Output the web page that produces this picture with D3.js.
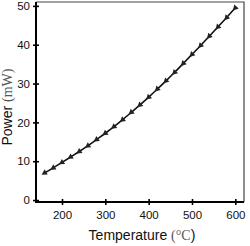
<!DOCTYPE html>
<html>
<head>
<meta charset="utf-8">
<script src="https://cdn.jsdelivr.net/npm/d3@7"></script>
<style>
  body { margin: 0; background: #fff; }
  text { font-family: "Liberation Sans", Arial, sans-serif; fill: #111; }
</style>
</head>
<body>
<div id="chart_box"></div>
<script>
var temperature = [160, 180, 200, 220, 240, 260, 280, 300, 320, 340, 360, 380,
                   400, 420, 440, 460, 480, 500, 520, 540, 560, 580, 600];
var power = [7.0, 8.3, 9.7, 11.1, 12.5, 14.0, 15.6, 17.2, 18.9, 20.7, 22.6, 24.5,
             26.5, 28.6, 30.7, 32.9, 35.2, 37.5, 39.8, 42.2, 44.6, 47.0, 49.5];
var xTicks = [200, 300, 400, 500, 600];
var yTicks = [0, 10, 20, 30, 40, 50];

// plot box edges (note: "top" is reserved on window, so use other names)
var width = 250, height = 246;
var plotLeft = 36, plotRight = 244, plotTop = 2, plotBottom = 202;

var svg = d3.select("#chart_box").append("svg")
    .attr("width", width)
    .attr("height", height);

var x = d3.scaleLinear().domain([140, 620]).range([plotLeft, plotRight]);
var y = d3.scaleLinear().domain([-0.5, 51]).range([plotBottom, plotTop]);

// frame: top and right lines are thin
svg.append("path")
    .attr("d", "M" + plotLeft + "," + plotTop + "H" + plotRight + "V" + plotBottom)
    .attr("fill", "none")
    .attr("stroke", "#444")
    .attr("stroke-width", 1.2);

// left axis
var yAxis = svg.append("g")
    .attr("transform", "translate(" + plotLeft + ",0)")
    .call(d3.axisLeft(y).tickValues(yTicks).tickSize(3).tickPadding(3));
yAxis.select(".domain").remove();
yAxis.selectAll(".tick line").attr("x2", 3).attr("x1", -3)
    .attr("stroke", "#000").attr("stroke-width", 1.6);
yAxis.selectAll(".tick text")
    .attr("x", -6)
    .style("font-size", "11.5px")
    .style("font-family", "Liberation Sans, Arial, sans-serif")
    .attr("fill", "#111");
svg.append("line")
    .attr("x1", plotLeft).attr("x2", plotLeft)
    .attr("y1", plotTop).attr("y2", plotBottom + 1)
    .attr("stroke", "#000").attr("stroke-width", 2);

// bottom axis
var xAxis = svg.append("g")
    .attr("transform", "translate(0," + plotBottom + ")")
    .call(d3.axisBottom(x).tickValues(xTicks).tickSize(3).tickPadding(6));
xAxis.select(".domain").remove();
xAxis.selectAll(".tick line").attr("y1", -3).attr("y2", 3)
    .attr("stroke", "#000").attr("stroke-width", 1.6);
xAxis.selectAll(".tick text")
    .style("font-size", "11.5px")
    .style("font-family", "Liberation Sans, Arial, sans-serif")
    .attr("fill", "#111");
svg.append("line")
    .attr("x1", plotLeft - 1).attr("x2", plotRight)
    .attr("y1", plotBottom).attr("y2", plotBottom)
    .attr("stroke", "#000").attr("stroke-width", 2);

// curve
var pts = temperature.map(function (t, i) { return [t, power[i]]; });
var line = d3.line()
    .x(function (d) { return x(d[0]); })
    .y(function (d) { return y(d[1]); })
    .curve(d3.curveMonotoneX);

svg.append("path")
    .datum(pts)
    .attr("d", line)
    .attr("fill", "none")
    .attr("stroke", "#111")
    .attr("stroke-width", 1.6);

// triangle markers pointing down the curve
var tri = d3.symbol().type(d3.symbolTriangle).size(16);
svg.selectAll(".mark")
    .data(pts)
    .enter().append("path")
    .attr("class", "mark")
    .attr("d", tri)
    .attr("transform", function (d, i) {
        var a = pts[Math.max(i - 1, 0)], b = pts[Math.min(i + 1, pts.length - 1)];
        var ang = Math.atan2(y(b[1]) - y(a[1]), x(b[0]) - x(a[0])) * 180 / Math.PI;
        return "translate(" + x(d[0]) + "," + y(d[1]) + ") rotate(" + (ang - 90) + ")";
    })
    .attr("fill", "#222");

// axis titles
var xt = svg.append("text")
    .attr("x", 142).attr("y", 240)
    .attr("text-anchor", "middle")
    .style("font-size", "14px");
xt.append("tspan").text("Temperature ");
xt.append("tspan").text("(\u00B0C")
    .style("font-family", "Liberation Serif, Times New Roman, serif")
    .attr("fill", "#555");
xt.append("tspan").text(")").attr("fill", "#111");

var yt = svg.append("text")
    .attr("transform", "translate(12,107) rotate(-90)")
    .attr("text-anchor", "middle")
    .style("font-size", "14px");
yt.append("tspan").text("Power ");
yt.append("tspan").text("(mW)")
    .style("font-family", "Liberation Serif, Times New Roman, serif")
    .attr("fill", "#555");
</script>
</body>
</html>
